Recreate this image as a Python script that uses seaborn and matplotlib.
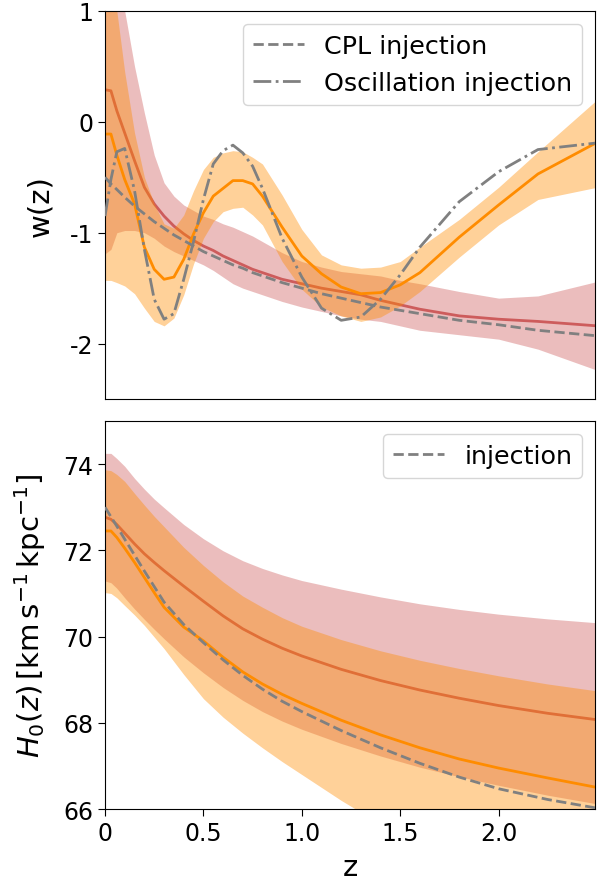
import numpy as np
import pandas as pd
import matplotlib
matplotlib.use("Agg")
import matplotlib.pyplot as plt
import seaborn as sns

# ---- top panel: w(z) reconstructions ----
z_w = [0, 0.03, 0.06, 0.1, 0.15, 0.2, 0.25, 0.3, 0.35, 0.4, 0.45, 0.5, 0.55, 0.6, 0.65,
       0.7, 0.75, 0.8, 0.9, 1.0, 1.1, 1.2, 1.3, 1.4, 1.5, 1.6, 1.8, 2.0, 2.2, 2.5]

w_cpl_mean = [0.29, 0.28, 0.10, -0.10, -0.35, -0.59, -0.74, -0.85, -0.94, -1.01, -1.07, -1.12,
              -1.16, -1.21, -1.25, -1.29, -1.33, -1.36, -1.42, -1.46, -1.50, -1.53, -1.56,
              -1.61, -1.65, -1.69, -1.75, -1.78, -1.80, -1.84]
w_cpl_hi = [3.0, 2.2, 1.6, 1.0, 0.5, 0.08, -0.3, -0.55, -0.67, -0.75, -0.80, -0.85, -0.88,
            -0.92, -0.95, -0.99, -1.03, -1.08, -1.18, -1.26, -1.31, -1.35, -1.37, -1.39,
            -1.43, -1.46, -1.53, -1.59, -1.57, -1.44]
w_cpl_lo = [-1.19, -1.15, -1.0, -0.98, -0.98, -1.0, -1.05, -1.12, -1.17, -1.21, -1.25, -1.29,
            -1.34, -1.40, -1.46, -1.50, -1.53, -1.56, -1.62, -1.67, -1.71, -1.75, -1.78,
            -1.80, -1.84, -1.88, -1.92, -1.96, -2.05, -2.24]

w_osc_mean = [-0.11, -0.11, -0.30, -0.52, -0.74, -1.13, -1.33, -1.42, -1.40, -1.24, -1.01,
              -0.82, -0.67, -0.60, -0.53, -0.53, -0.56, -0.67, -0.95, -1.21, -1.37, -1.49,
              -1.55, -1.54, -1.47, -1.36, -1.04, -0.75, -0.47, -0.185]
w_osc_hi = [2.0, 1.5, 1.0, 0.45, -0.1, -0.5, -0.74, -0.92, -0.96, -0.84, -0.62, -0.43, -0.32,
            -0.28, -0.26, -0.27, -0.32, -0.38, -0.66, -0.97, -1.20, -1.29, -1.32, -1.31,
            -1.26, -1.13, -0.88, -0.59, -0.27, 0.20]
w_osc_lo = [-1.43, -1.43, -1.45, -1.48, -1.55, -1.68, -1.80, -1.84, -1.77, -1.56, -1.28,
            -1.05, -0.90, -0.81, -0.78, -0.77, -0.84, -0.93, -1.26, -1.51, -1.67, -1.75,
            -1.80, -1.76, -1.66, -1.53, -1.22, -0.93, -0.70, -0.59]

w_cpl_true = [-0.50, -0.56, -0.61, -0.68, -0.76, -0.83, -0.90, -0.96, -1.02, -1.07, -1.12,
              -1.17, -1.21, -1.25, -1.29, -1.32, -1.36, -1.39, -1.45, -1.50, -1.55, -1.59,
              -1.63, -1.67, -1.70, -1.73, -1.79, -1.83, -1.88, -1.93]
w_osc_true = [-0.85, -0.52, -0.27, -0.24, -0.62, -1.15, -1.60, -1.78, -1.73, -1.42, -1.08,
              -0.70, -0.38, -0.26, -0.21, -0.28, -0.40, -0.60, -1.05, -1.40, -1.68, -1.79,
              -1.76, -1.60, -1.38, -1.13, -0.72, -0.45, -0.25, -0.19]

# ---- bottom panel: H0(z) ----
z_h = [0, 0.03, 0.06, 0.1, 0.15, 0.2, 0.25, 0.3, 0.4, 0.5, 0.6, 0.7, 0.8, 0.9, 1.0, 1.2,
       1.4, 1.6, 1.8, 2.0, 2.25, 2.5]

h_cpl_mean = [72.77, 72.72, 72.60, 72.40, 72.15, 71.92, 71.72, 71.53, 71.17, 70.82, 70.48,
              70.18, 69.94, 69.73, 69.55, 69.24, 68.98, 68.76, 68.57, 68.40, 68.22, 68.07]
h_cpl_hi = [74.25, 74.25, 74.13, 73.95, 73.67, 73.42, 73.19, 72.99, 72.60, 72.27, 71.99,
            71.76, 71.58, 71.43, 71.30, 71.10, 70.92, 70.76, 70.63, 70.52, 70.41, 70.32]
h_cpl_lo = [71.29, 71.25, 71.12, 70.90, 70.64, 70.40, 70.17, 69.95, 69.53, 69.16, 68.82,
            68.52, 68.26, 68.04, 67.85, 67.52, 67.23, 66.97, 66.75, 66.55, 66.32, 66.12]

h_osc_mean = [72.45, 72.45, 72.30, 72.05, 71.72, 71.37, 71.02, 70.68, 70.22, 69.90, 69.52,
              69.18, 68.90, 68.66, 68.45, 68.06, 67.72, 67.42, 67.16, 66.95, 66.72, 66.50]
h_osc_hi = [73.87, 73.85, 73.76, 73.60, 73.32, 73.05, 72.79, 72.55, 72.07, 71.65, 71.27,
            70.94, 70.68, 70.44, 70.24, 69.93, 69.67, 69.45, 69.26, 69.09, 68.90, 68.74]
h_osc_lo = [71.02, 71.00, 70.90, 70.72, 70.50, 70.26, 69.99, 69.72, 69.12, 68.56, 68.13,
            67.76, 67.42, 67.10, 66.80, 66.20, 65.65, 65.15, 64.70, 64.30, 63.85, 63.45]

h_true = [73.00, 72.78, 72.56, 72.26, 71.89, 71.52, 71.16, 70.80, 70.28, 69.86, 69.46,
          69.10, 68.78, 68.50, 68.26, 67.82, 67.42, 67.06, 66.74, 66.47, 66.22, 66.02]

RED = "indianred"
ORANGE = "darkorange"
GRAY = "gray"
FS_TICK = 17
FS_LAB = 21
FS_LEG = 18.3

plt.rcParams["xtick.major.size"] = 4.8
plt.rcParams["ytick.major.size"] = 4.8

df_w = pd.DataFrame({"z": z_w, "cpl": w_cpl_mean, "osc": w_osc_mean,
                     "cpl_true": w_cpl_true, "osc_true": w_osc_true})
df_h = pd.DataFrame({"z": z_h, "cpl": h_cpl_mean, "osc": h_osc_mean, "true": h_true})

fig = plt.figure(figsize=(6.06, 8.87), dpi=100)
ax1 = fig.add_axes([0.1733, 0.549, 0.8086, 0.4375])
ax2 = fig.add_axes([0.1733, 0.0868, 0.8086, 0.4374])

# top panel (draw order: red band, red line, orange band, orange line, injections)
ax1.fill_between(z_w, w_cpl_lo, w_cpl_hi, color=RED, alpha=0.4, lw=0, zorder=1)
sns.lineplot(data=df_w, x="z", y="cpl", color=RED, lw=2, zorder=1.5, ax=ax1)
ax1.fill_between(z_w, w_osc_lo, w_osc_hi, color=ORANGE, alpha=0.4, lw=0, zorder=2)
sns.lineplot(data=df_w, x="z", y="osc", color=ORANGE, lw=2, zorder=2.5, ax=ax1)
sns.lineplot(data=df_w, x="z", y="cpl_true", color=GRAY, lw=2, linestyle="--",
             label="CPL injection", zorder=3, ax=ax1)
sns.lineplot(data=df_w, x="z", y="osc_true", color=GRAY, lw=2, linestyle="-.",
             label="Oscillation injection", zorder=3, ax=ax1)
ax1.set_xlim(0, 2.49)
ax1.set_ylim(-2.5, 1)
ax1.set_xticks([])
ax1.set_xlabel("")
ax1.set_yticks([1, 0, -1, -2])
ax1.set_yticklabels(["1", "0", "-1", "-2"], fontsize=FS_TICK)
ax1.set_ylabel("w(z)", fontsize=FS_LAB, labelpad=11)
ax1.legend(loc="upper right", fontsize=FS_LEG)

# bottom panel
ax2.fill_between(z_h, h_cpl_lo, h_cpl_hi, color=RED, alpha=0.4, lw=0, zorder=1)
sns.lineplot(data=df_h, x="z", y="cpl", color=RED, lw=2, zorder=1.5, ax=ax2)
ax2.fill_between(z_h, h_osc_lo, h_osc_hi, color=ORANGE, alpha=0.4, lw=0, zorder=2)
sns.lineplot(data=df_h, x="z", y="osc", color=ORANGE, lw=2, zorder=2.5, ax=ax2)
sns.lineplot(data=df_h, x="z", y="true", color=GRAY, lw=2, linestyle="--",
             label="injection", zorder=3, ax=ax2)
ax2.set_xlim(0, 2.49)
ax2.set_ylim(66, 75)
ax2.set_xticks([0, 0.5, 1.0, 1.5, 2.0])
ax2.set_xticklabels(["0", "0.5", "1.0", "1.5", "2.0"], fontsize=FS_TICK)
ax2.set_yticks([66, 68, 70, 72, 74])
ax2.set_yticklabels(["66", "68", "70", "72", "74"], fontsize=FS_TICK)
ax2.set_xlabel("z", fontsize=FS_LAB, labelpad=6)
ax2.set_ylabel(r"$H_0(z)\,[\mathrm{km\,s^{-1}\,kpc^{-1}}]$", fontsize=FS_LAB, labelpad=11)
ax2.legend(loc="upper right", fontsize=FS_LEG)

fig.savefig("out.png", dpi=100)
